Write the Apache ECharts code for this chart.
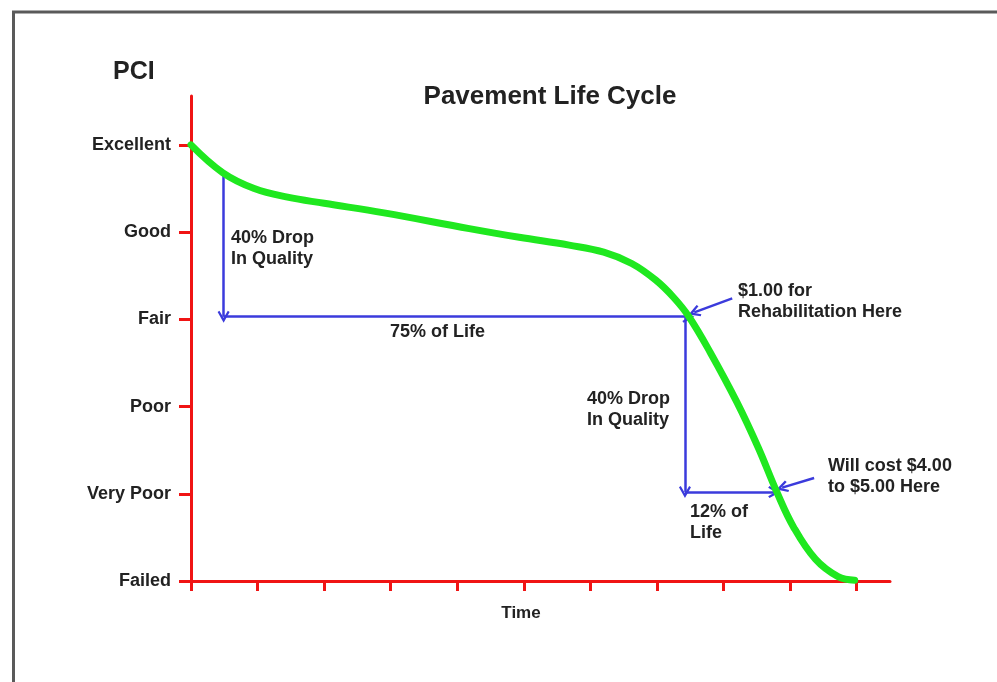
<!DOCTYPE html>
<html>
<head>
<meta charset="utf-8">
<script src="https://cdn.jsdelivr.net/npm/echarts@6/dist/echarts.min.js"></script>
<style>
html,body{margin:0;padding:0;background:#fff;}
#chart{width:997px;height:682px;}
</style>
</head>
<body>
<div id="chart"></div>
<script>
// ---- data ----
const levelNames = ['Failed', 'Very Poor', 'Poor', 'Fair', 'Good', 'Excellent'];
const levelValues = [0, 1, 2, 3, 4, 5];
const timeTicks = [0, 1, 2, 3, 4, 5, 6, 7, 8, 9, 10];
const lifeTime = [0, 0.48, 0.95, 1.45, 2.0, 2.9, 4.18, 4.93, 5.68, 6.2, 6.62, 6.98, 7.25, 7.48, 7.8, 8.2, 8.52, 8.8, 9.05, 9.38, 9.72, 9.97];
const pciValue = [5.0, 4.68, 4.50, 4.40, 4.33, 4.22, 4.04, 3.94, 3.85, 3.77, 3.64, 3.45, 3.25, 3.03, 2.62, 2.05, 1.53, 1.02, 0.62, 0.25, 0.05, 0.01];
// arrows: [fromTime, fromPci, toTime, toPci]
const dropArrow1 = [0.49, 4.67, 0.49, 3.03];
const lifeArrow1 = [0.49, 3.03, 7.47, 3.03];
const dropArrow2 = [7.42, 3.03, 7.42, 1.02];
const lifeArrow2 = [7.42, 1.02, 8.76, 1.02];
const pointer1 = [8.13, 3.24, 7.56, 3.08];
const pointer2 = [9.36, 1.18, 8.88, 1.07];

const FONT = "'Liberation Sans', Arial, sans-serif";
const TXT = '#222';
const RED = '#f01414';
const BLUE = '#3b3bdc';
const GREEN = '#1fe81f';

const chart = echarts.init(document.getElementById('chart'), null, {renderer: 'canvas'});

const arrowList = [dropArrow1, lifeArrow1, dropArrow2, lifeArrow2, pointer1, pointer2];
const chevron = 'path://M6,0 L12,8 L10.2,9 L6,3.6 L1.8,9 L0,8 Z';

function txt(text, x, y, size, align) {
  return {
    type: 'text', x: x, y: y,
    style: {text: text, font: 'bold ' + size + 'px ' + FONT, fill: TXT,
      textAlign: align || 'left', textVerticalAlign: 'top', lineHeight: 21}
  };
}

chart.setOption({
  animation: false,
  backgroundColor: '#fff',
  grid: {left: 191, right: 107, top: 96, bottom: 101},
  xAxis: {
    type: 'value', min: 0, max: 10.5, interval: 1,
    axisLine: {show: true, lineStyle: {color: RED, width: 3}},
    axisTick: {show: true, length: 10, lineStyle: {color: RED, width: 3}, customValues: timeTicks},
    axisLabel: {show: false},
    splitLine: {show: false}
  },
  yAxis: {
    type: 'value', min: 0, max: 5.56, interval: 1,
    axisLine: {show: true, lineStyle: {color: RED, width: 3}},
    axisTick: {show: true, length: 12, lineStyle: {color: RED, width: 3}, customValues: levelValues},
    axisLabel: {
      show: true, margin: 20, customValues: levelValues,
      formatter: function (v) { return levelNames[Math.round(v)]; },
      fontFamily: FONT, fontWeight: 'bold', fontSize: 18, color: TXT
    },
    splitLine: {show: false}
  },
  graphic: [
    {type: 'rect', shape: {x: 13.5, y: 12, width: 1100, height: 800}, style: {fill: 'none', stroke: '#5a5a5a', lineWidth: 3}, z: 0, silent: true},
    txt('PCI', 113, 62, 25),
    txt('Pavement Life Cycle', 550, 86, 26, 'center'),
    txt('Time', 521, 603, 17, 'center'),
    txt('40% Drop\nIn Quality', 231, 228, 18),
    txt('75% of Life', 390, 322, 18),
    txt('$1.00 for\nRehabilitation Here', 738, 281, 18),
    txt('40% Drop\nIn Quality', 587, 389, 18),
    txt('Will cost $4.00\nto $5.00 Here', 828, 456, 18),
    txt('12% of\nLife', 690, 502, 18)
  ],
  series: [
    {
      type: 'lines', coordinateSystem: 'cartesian2d', z: 3,
      symbol: ['none', chevron], symbolSize: [16, 12],
      lineStyle: {color: BLUE, width: 2.5, opacity: 1},
      data: arrowList.map(a => ({coords: [[a[0], a[1]], [a[2], a[3]]]}))
    },
    {
      type: 'line', z: 4, smooth: 0.4, showSymbol: false, symbol: 'none',
      lineStyle: {color: GREEN, width: 7, cap: 'round', join: 'round'},
      data: lifeTime.map((t, i) => [t, pciValue[i]])
    }
  ]
});
</script>
</body>
</html>
